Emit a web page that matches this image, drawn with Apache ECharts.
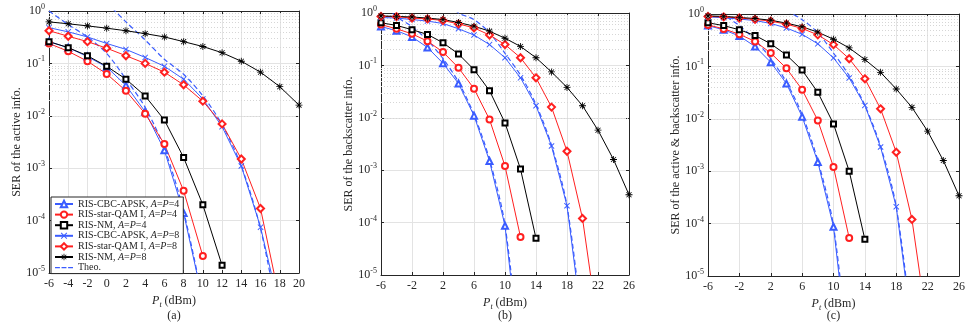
<!DOCTYPE html>
<html>
<head>
<meta charset="utf-8">
<title>SER vs Pt</title>
<script src="https://cdn.jsdelivr.net/npm/echarts@6/dist/echarts.min.js"></script>
<style>
html, body { margin: 0; padding: 0; background: #fff; }
#main { width: 969px; height: 328px; }
</style>
</head>
<body>
<div id="main"></div>
<script>
// transmit power (dBm)
var ptA = [-6, -4, -2, 0, 2, 4, 6, 8, 10, 12, 14, 16, 18, 20];
var ptB = [-6, -4, -2, 0, 2, 4, 6, 8, 10, 12, 14, 16, 18, 20, 22, 24, 26];
var ticksA = [-6, 20, 2];
var ticksB = [-6, 26, 4];

// (a) SER of the active info.
var a_cbc4  = [0.26, 0.2, 0.135, 0.085, 0.038, 0.012, 0.0022, 1.4e-4, 3e-6];
var a_star4 = [0.24, 0.17, 0.11, 0.063, 0.03, 0.011, 0.0029, 3.7e-4, 2.1e-5];
var a_nm4   = [0.26, 0.2, 0.14, 0.088, 0.05, 0.024, 0.0083, 0.0016, 2e-4, 1.4e-5];
var a_cbc8  = [0.48, 0.4, 0.32, 0.24, 0.185, 0.13, 0.088, 0.05, 0.021, 0.0062, 0.0011, 7.5e-5, 2e-6];
var a_star8 = [0.42, 0.33, 0.26, 0.195, 0.14, 0.1, 0.068, 0.039, 0.019, 0.007, 0.0015, 1.7e-4, 3e-6];
var a_nm8   = [0.62, 0.57, 0.52, 0.47, 0.42, 0.37, 0.32, 0.26, 0.21, 0.16, 0.11, 0.068, 0.036, 0.016];
var a_theo4 = [1.0, 0.55, 0.32, 0.155, 0.05, 0.0145, 0.0024, 1.5e-4, 3e-6];
var a_theo8 = [null, null, null, 1.45, 0.62, 0.28, 0.12, 0.062, 0.024, 0.0068, 0.0011, 7e-5, 1e-6];

// (b) SER of the backscatter info.
var b_cbc4  = [0.55, 0.46, 0.35, 0.22, 0.11, 0.045, 0.011, 0.0015, 8.7e-5, 2e-7];
var b_star4 = [0.6, 0.5, 0.4, 0.29, 0.18, 0.09, 0.036, 0.0093, 0.0012, 5.3e-5];
var b_nm4   = [0.65, 0.58, 0.48, 0.39, 0.27, 0.165, 0.083, 0.033, 0.008, 0.00105, 5e-5];
var b_cbc8  = [0.82, 0.8, 0.75, 0.7, 0.63, 0.5, 0.38, 0.25, 0.14, 0.058, 0.017, 0.0029, 2.1e-4, 1e-6];
var b_star8 = [0.86, 0.85, 0.8, 0.77, 0.72, 0.62, 0.52, 0.38, 0.25, 0.14, 0.058, 0.016, 0.0023, 1.2e-4, 1e-6];
var b_nm8   = [0.88, 0.86, 0.84, 0.8, 0.75, 0.66, 0.56, 0.45, 0.33, 0.23, 0.14, 0.075, 0.038, 0.017, 0.0058, 0.0016, 3.4e-4];
var b_theo4 = [1.6, 0.85, 0.55, 0.3, 0.135, 0.048, 0.0115, 0.0016, 9e-5, 2e-7];
var b_theo8 = [null, null, null, null, 1.8, 1.0, 0.75, 0.42, 0.17, 0.065, 0.018, 0.003, 2.1e-4, 1e-6];

// (c) SER of the active & backscatter info.
var c_cbc4  = [0.6, 0.5, 0.38, 0.24, 0.12, 0.047, 0.011, 0.0015, 8.7e-5, 2e-7];
var c_star4 = [0.62, 0.52, 0.41, 0.3, 0.18, 0.092, 0.036, 0.0093, 0.0012, 5.3e-5];
var c_nm4   = [0.68, 0.6, 0.5, 0.39, 0.27, 0.165, 0.085, 0.032, 0.008, 0.001, 5e-5];
var c_cbc8  = [0.88, 0.85, 0.8, 0.75, 0.66, 0.54, 0.41, 0.27, 0.145, 0.06, 0.018, 0.0029, 2.1e-4, 1e-6];
var c_star8 = [0.9, 0.88, 0.84, 0.79, 0.73, 0.64, 0.53, 0.4, 0.26, 0.14, 0.058, 0.0155, 0.0023, 1.2e-4, 1e-6];
var c_nm8   = [0.92, 0.9, 0.86, 0.82, 0.76, 0.67, 0.57, 0.45, 0.33, 0.225, 0.135, 0.077, 0.037, 0.0165, 0.0058, 0.0016, 3.4e-4];
var c_theo4 = [1.7, 0.97, 0.6, 0.32, 0.14, 0.05, 0.012, 0.0016, 9e-5, 2e-7];
var c_theo8 = [null, null, null, null, null, 1.15, 0.78, 0.44, 0.18, 0.066, 0.018, 0.003, 2.1e-4, 1e-6];

var yNames = ['SER of the active info.', 'SER of the backscatter info.', 'SER of the active & backscatter info.'];
var panelTags = ['(a)', '(b)', '(c)'];

var BLUE = '#3a5cff', RED = '#ff2020', BLACK = '#000000', AXC = '#262626';
var FONT = '"Liberation Serif", "Times New Roman", serif';
// filled outlines so the legend draws them too
var X_MARK = 'path://M0,1.1L1.1,0L5,3.9L8.9,0L10,1.1L6.1,5L10,8.9L8.9,10L5,6.1L1.1,10L0,8.9L3.9,5Z';
var STAR_MARK = 'path://M4.4,0h1.2v10h-1.2z M0,4.4h10v1.2h-10z M1,1.8L1.8,1L9,8.2L8.2,9z M8.2,1L9,1.8L1.8,9L1,8.2z';
var DASH_ICON = 'path://M0,4h6v1.6h-6z M8,4h6v1.6h-6z M16,4h6v1.6h-6z';

var grids = [
  { left: 49, top: 11, width: 250, height: 262 },
  { left: 381, top: 13, width: 248, height: 262 },
  { left: 708, top: 14, width: 251, height: 262 }
];
var yNameGaps = [20, 22, 21];

function pairs(xs, ys) {
  var out = [];
  for (var i = 0; i < ys.length; i++) {
    if (ys[i] != null) out.push([xs[i], ys[i]]);
  }
  return out;
}

function powLabel(v) {
  var e = Math.round(Math.log10(v));
  return '{b|10}{s|' + e + '}';
}

var styles = [
  { name: 'RIS-CBC-APSK, {i|A}={i|P}=4', color: BLUE, symbol: 'emptyTriangle', size: 6 },
  { name: 'RIS-star-QAM I, {i|A}={i|P}=4', color: RED, symbol: 'emptyCircle', size: 6 },
  { name: 'RIS-NM, {i|A}={i|P}=4', color: BLACK, symbol: 'emptyRect', size: 5 },
  { name: 'RIS-CBC-APSK, {i|A}={i|P}=8', color: BLUE, symbol: X_MARK, size: 6 },
  { name: 'RIS-star-QAM I, {i|A}={i|P}=8', color: RED, symbol: 'emptyDiamond', size: 7 },
  { name: 'RIS-NM, {i|A}={i|P}=8', color: BLACK, symbol: STAR_MARK, size: 7 }
];

var panels = [
  { xs: ptA, sets: [a_cbc4, a_star4, a_nm4, a_cbc8, a_star8, a_nm8], theo: [a_theo4, a_theo8], ticks: ticksA },
  { xs: ptB, sets: [b_cbc4, b_star4, b_nm4, b_cbc8, b_star8, b_nm8], theo: [b_theo4, b_theo8], ticks: ticksB },
  { xs: ptB, sets: [c_cbc4, c_star4, c_nm4, c_cbc8, c_star8, c_nm8], theo: [c_theo4, c_theo8], ticks: ticksB }
];

// dotted minor grid lines at 2..9 x 10^k
var minorLines = [];
for (var k = -5; k < 0; k++) {
  for (var m = 2; m <= 9; m++) minorLines.push({ yAxis: m * Math.pow(10, k) });
}

var xAxes = [], yAxes = [], series = [], graphics = [];

panels.forEach(function (p, gi) {
  var g = grids[gi];
  xAxes.push({
    gridIndex: gi, type: 'value', min: p.ticks[0], max: p.ticks[1], interval: p.ticks[2],
    name: '{i|P}{sub|t} (dBm)', nameLocation: 'middle', nameGap: 16,
    nameTextStyle: {
      color: AXC, fontFamily: FONT, fontSize: 12,
      rich: {
        i: { fontStyle: 'italic', fontFamily: FONT, fontSize: 12, color: AXC },
        sub: { fontStyle: 'italic', fontFamily: FONT, fontSize: 8, color: AXC, padding: [8, 0, 0, 0] }
      }
    },
    axisLine: { show: true, onZero: false, lineStyle: { color: AXC, width: 1 } },
    axisTick: { show: true, inside: true, length: 3, lineStyle: { color: AXC } },
    axisLabel: { color: AXC, fontFamily: FONT, fontSize: 12, margin: 5 },
    splitLine: { show: true, lineStyle: { color: '#e3e3e3', width: 1 } }
  });
  xAxes.push({
    gridIndex: gi, type: 'value', position: 'top', min: p.ticks[0], max: p.ticks[1], interval: p.ticks[2],
    axisLine: { show: true, onZero: false, lineStyle: { color: AXC, width: 1 } },
    axisTick: { show: true, inside: true, length: 3, lineStyle: { color: AXC } },
    axisLabel: { show: false }, splitLine: { show: false }
  });
  yAxes.push({
    gridIndex: gi, type: 'log', logBase: 10, min: 1e-5, max: 1,
    name: yNames[gi], nameLocation: 'middle', nameGap: yNameGaps[gi],
    nameTextStyle: { color: AXC, fontFamily: FONT, fontSize: 12 },
    axisLine: { show: true, onZero: false, lineStyle: { color: AXC, width: 1 } },
    axisTick: { show: true, inside: true, length: 3, lineStyle: { color: AXC } },
    axisLabel: {
      color: AXC, margin: 4, formatter: powLabel,
      rich: {
        b: { fontFamily: FONT, fontSize: 12, color: AXC },
        s: { fontFamily: FONT, fontSize: 8, color: AXC, padding: [0, 0, 8, 0] }
      }
    },
    splitLine: { show: true, lineStyle: { color: '#e3e3e3', width: 1 } }
  });
  yAxes.push({
    gridIndex: gi, type: 'log', logBase: 10, min: 1e-5, max: 1, position: 'right',
    axisLine: { show: true, onZero: false, lineStyle: { color: AXC, width: 1 } },
    axisTick: { show: true, inside: true, length: 3, lineStyle: { color: AXC } },
    axisLabel: { show: false }, splitLine: { show: false }
  });

  var xi = gi * 2, yi = gi * 2;

  // minor grid holder
  series.push({
    type: 'line', xAxisIndex: xi, yAxisIndex: yi, data: [], silent: true, z: 1,
    markLine: {
      silent: true, symbol: 'none', label: { show: false }, z: 1,
      lineStyle: { color: '#d6d6d6', type: [1, 2], width: 1 },
      data: minorLines
    }
  });

  // theory curves (under the simulated ones)
  p.theo.forEach(function (t) {
    series.push({
      name: 'Theo.', type: 'line', xAxisIndex: xi, yAxisIndex: yi,
      data: pairs(p.xs, t), showSymbol: false, symbol: 'none', smooth: 0.3, clip: true, z: 2,
      lineStyle: { color: BLUE, width: 1.2, type: [5, 3] },
      itemStyle: { color: BLUE }
    });
  });

  p.sets.forEach(function (vals, si) {
    var st = styles[si];
    var isPath = st.symbol.indexOf('path://') === 0;
    series.push({
      name: st.name, type: 'line', xAxisIndex: xi, yAxisIndex: yi,
      data: pairs(p.xs, vals), clip: true, z: 3,
      symbol: st.symbol, symbolSize: st.size, showAllSymbol: true,
      lineStyle: { color: st.color, width: 1 },
      itemStyle: { color: st.color, borderColor: st.color, borderWidth: isPath ? 0 : 1 }
    });
  });

  graphics.push({
    type: 'text', x: g.left + g.width / 2, y: 310,
    style: { text: panelTags[gi], textAlign: 'center', font: '12px ' + FONT, fill: AXC }
  });
});

var legendData = styles.map(function (s) { return { name: s.name }; });
legendData.push({ name: 'Theo.', icon: DASH_ICON });

var chart = echarts.init(document.getElementById('main'), null, { renderer: 'canvas' });
chart.setOption({
  backgroundColor: '#fff',
  animation: false,
  grid: grids,
  xAxis: xAxes,
  yAxis: yAxes,
  legend: {
    data: legendData, orient: 'vertical', left: 51, top: 197,
    itemWidth: 18, itemHeight: 8, itemGap: 0.6,
    backgroundColor: '#fff', borderColor: AXC, borderWidth: 1, borderRadius: 0,
    padding: [2, 4, 1, 3],
    selectedMode: false,
    textStyle: {
      fontFamily: FONT, fontSize: 10, lineHeight: 10, color: AXC,
      rich: { i: { fontStyle: 'italic', fontFamily: FONT, fontSize: 10, lineHeight: 10, color: AXC } }
    }
  },
  graphic: graphics,
  series: series
});
</script>
</body>
</html>
